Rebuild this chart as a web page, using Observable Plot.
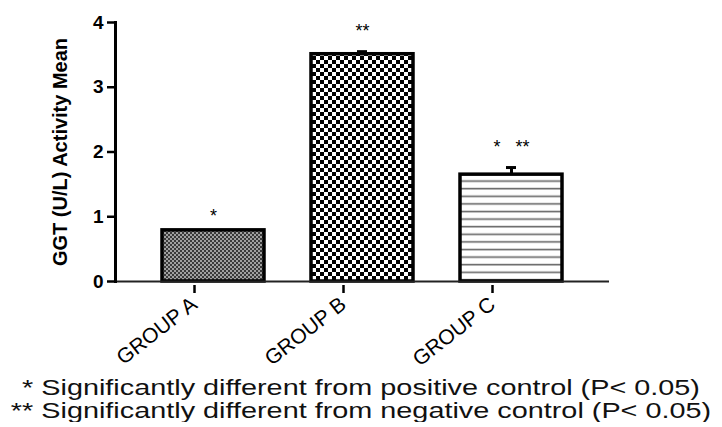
<!DOCTYPE html>
<html>
<head>
<meta charset="utf-8">
<script src="https://cdn.jsdelivr.net/npm/d3@7"></script>
<script src="https://cdn.jsdelivr.net/npm/@observablehq/plot@0.6"></script>
<style>
  html, body { margin: 0; padding: 0; background: #fff; }
  #chart { width: 722px; height: 376px; }
  #caption { width: 722px; text-align: center; font-family: "Liberation Sans", Arial, sans-serif; font-size: 22px; line-height: 23px; color: #111; }
  #caption div { transform: scaleX(1.31); transform-origin: 50% 50%; white-space: nowrap; }
</style>
</head>
<body>
<div id="chart"></div>
<div id="caption"></div>
<script>
const groups = ["GROUP A", "GROUP B", "GROUP C"];
const means = [0.79, 3.51, 1.65];
const errors = [0, 0.04, 0.11];
const stars = ["*", "**", "*\u00a0\u00a0\u00a0**"];
const yTicks = [0, 1, 2, 3, 4];
const yLabel = "GGT (U/L) Activity Mean";
const captionLines = [
  "* Significantly different from positive control (P< 0.05)",
  "** Significantly different from negative control (P< 0.05)"
];
const patternIds = ["patA", "patB", "patC"];

const data = groups.map((g, i) => ({group: g, mean: means[i], err: errors[i], star: stars[i]}));
const withErr = data.filter(d => d.err > 0);
const noErr = data.filter(d => !(d.err > 0));

const font = "Liberation Sans, Arial, sans-serif";

const chart = Plot.plot({
  width: 722,
  height: 376,
  marginLeft: 115,
  marginRight: 113,
  marginTop: 22,
  marginBottom: 95,
  style: {fontFamily: font, color: "#000", background: "#fff"},
  x: {domain: groups, padding: 0.315, label: null},
  y: {domain: [0, 4], ticks: yTicks, label: null},
  color: {domain: groups, range: patternIds.map(id => `url(#${id})`)},
  marks: [
    Plot.barY(data, {x: "group", y: "mean", fill: "group", stroke: "#000", strokeWidth: 3.5}),
    Plot.ruleX(withErr, {x: "group", y1: "mean", y2: d => d.mean + d.err, stroke: "#000", strokeWidth: 3}),
    Plot.tickY(withErr, {x: "group", y: d => d.mean + d.err, stroke: "#000", strokeWidth: 3, insetLeft: 56, insetRight: 56}),
    Plot.text(noErr, {x: "group", y: "mean", text: "star", fontSize: 18, lineAnchor: "middle", dy: -14, fill: "#000"}),
    Plot.text(withErr, {x: "group", y: d => d.mean + d.err, text: "star", fontSize: 18, lineAnchor: "middle", dy: -20, fill: "#000"}),
    Plot.ruleY([0], {stroke: "#222", strokeWidth: 2}),
    Plot.frame({anchor: "left", stroke: "#000", strokeWidth: 3}),
    Plot.axisY({ticks: yTicks, tickFormat: "d", tickSize: 8, tickPadding: 4, strokeWidth: 2.5, fontSize: 19, fontWeight: "bold",
      label: yLabel, labelAnchor: "center", labelArrow: "none", labelOffset: 63}),
    Plot.axisX({tickSize: 8, tickPadding: 8, strokeWidth: 2.5, tickRotate: -38, fontSize: 21, dx: -19, dy: 4, label: null})
  ]
});

// Pattern definitions for the bar fills
const svg = d3.select(chart.tagName.toLowerCase() === "svg" ? chart : chart.querySelector("svg"));
const defs = svg.insert("defs", ":first-child");
// A: fine dark checker
const pA = defs.append("pattern").attr("id", "patA").attr("patternUnits", "userSpaceOnUse").attr("width", 4).attr("height", 4);
pA.append("rect").attr("width", 4).attr("height", 4).attr("fill", "#3a3a3a");
pA.append("rect").attr("x", 0).attr("y", 0).attr("width", 2).attr("height", 2).attr("fill", "#a0a0a0");
pA.append("rect").attr("x", 2).attr("y", 2).attr("width", 2).attr("height", 2).attr("fill", "#a0a0a0");
// B: black/white checkerboard
const pB = defs.append("pattern").attr("id", "patB").attr("patternUnits", "userSpaceOnUse").attr("width", 8).attr("height", 8);
pB.append("rect").attr("width", 8).attr("height", 8).attr("fill", "#fff");
pB.append("rect").attr("x", 0).attr("y", 0).attr("width", 4).attr("height", 4).attr("fill", "#000");
pB.append("rect").attr("x", 4).attr("y", 4).attr("width", 4).attr("height", 4).attr("fill", "#000");
// C: horizontal lines
const pC = defs.append("pattern").attr("id", "patC").attr("patternUnits", "userSpaceOnUse").attr("width", 8).attr("height", 7.6);
pC.append("rect").attr("width", 8).attr("height", 7.6).attr("fill", "#fff");
pC.append("rect").attr("x", 0).attr("y", 5.5).attr("width", 8).attr("height", 1.6).attr("fill", "#666");

svg.selectAll("g[aria-label='y-axis label']").attr("font-size", 20).attr("font-weight", "bold");

document.getElementById("chart").appendChild(chart);
const cap = document.getElementById("caption");
captionLines.forEach(t => { const d = document.createElement("div"); d.textContent = t; cap.appendChild(d); });
</script>
</body>
</html>
